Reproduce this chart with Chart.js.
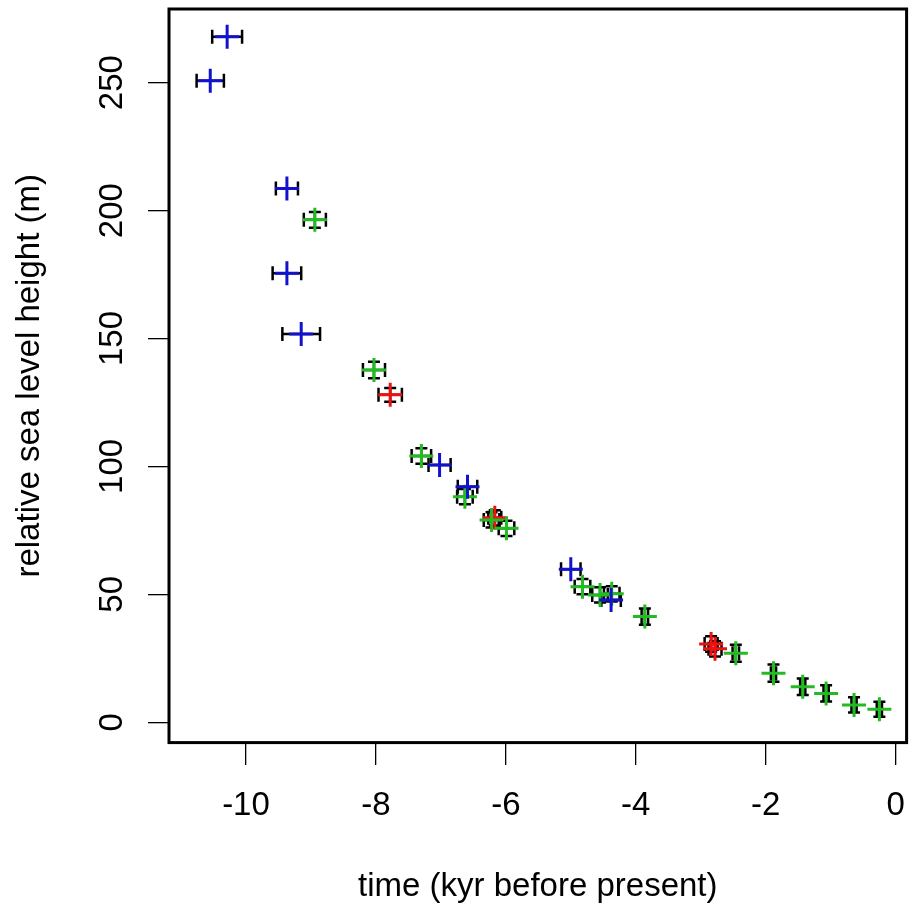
<!DOCTYPE html>
<html lang="en">

<head>
  <meta charset="UTF-8">
  <title>Relative sea level</title>
  <script src="https://cdn.jsdelivr.net/npm/chart.js"></script>
  <style>
    html, body { margin: 0; padding: 0; background: #fff; }
    #grafico { display: block; }
  </style>
</head>

<body>
  <canvas id="grafico" width="912" height="909"></canvas>

<script>
  // tick values
  const xTicks = [-10, -8, -6, -4, -2, 0];
  const yTicks = [0, 50, 100, 150, 200, 250];

  // blue series (time kyr BP, sea level m, errors)
  const blueTime = [-10.29, -10.55, -9.37, -9.37, -9.15, -7.02, -6.59, -5.00, -4.38];
  const blueLevel = [268.0, 250.8, 208.6, 175.5, 151.8, 100.6, 92.1, 59.8, 47.8];
  const blueTimeErr = [0.23, 0.21, 0.17, 0.22, 0.29, 0.17, 0.15, 0.15, 0.15];
  const blueLevelErr = [0, 0, 0, 0, 0, 0, 0, 0, 0];

  // green series
  const greenTime = [-8.94, -8.03, -7.30, -6.63, -6.22, -5.99, -4.82, -4.55, -4.37, -3.86, -2.46, -1.88, -1.43, -1.07, -0.64, -0.25];
  const greenLevel = [196.4, 137.7, 104.1, 88.2, 79.1, 75.8, 53.0, 49.8, 50.2, 41.3, 27.0, 19.2, 13.9, 11.3, 6.8, 5.1];
  const greenTimeErr = [0.17, 0.17, 0.15, 0.12, 0.12, 0.12, 0.12, 0.12, 0.12, 0.05, 0.05, 0.04, 0.04, 0.04, 0.04, 0.04];
  const greenLevelErr = [3.1, 3.2, 3.0, 3.0, 3.0, 3.0, 3.0, 3.0, 3.0, 3.2, 3.3, 3.4, 3.2, 3.2, 3.0, 2.9];

  // red series
  const redTime = [-7.78, -6.17, -2.84, -2.78];
  const redLevel = [128.0, 79.9, 30.6, 28.7];
  const redTimeErr = [0.18, 0.10, 0.10, 0.10];
  const redLevelErr = [2.7, 3.0, 3.0, 3.0];

  const fonte = '"Liberation Sans", Arial, sans-serif';

  function montarPontos(tempos, niveis) {
    let pontos = [];
    for (let i = 0; i < tempos.length; i++) {
      pontos.push({ x: tempos[i], y: niveis[i] });
    }
    return pontos;
  }

  function serie(tempos, niveis, errosX, errosY, cor) {
    return {
      data: montarPontos(tempos, niveis),
      errosX: errosX,
      errosY: errosY,
      showLine: false,
      pointStyle: 'cross',
      pointRadius: 12,
      pointHoverRadius: 12,
      pointBorderWidth: 3,
      pointHoverBorderWidth: 3,
      borderColor: cor,
      backgroundColor: cor
    };
  }

  // black error bars with caps, drawn under the crosses
  const barrasDeErro = {
    id: 'barrasDeErro',
    beforeDatasetsDraw(chart) {
      const ctx = chart.ctx;
      const sx = chart.scales.x;
      const sy = chart.scales.y;
      ctx.save();
      ctx.strokeStyle = '#000';
      ctx.lineWidth = 2.5;
      chart.data.datasets.forEach(function (ds) {
        ds.data.forEach(function (p, i) {
          const px = sx.getPixelForValue(p.x);
          const py = sy.getPixelForValue(p.y);
          const ex = ds.errosX[i];
          const ey = ds.errosY[i];
          ctx.beginPath();
          if (ex > 0) {
            const x1 = sx.getPixelForValue(p.x - ex);
            const x2 = sx.getPixelForValue(p.x + ex);
            ctx.moveTo(x1, py); ctx.lineTo(x2, py);
            ctx.moveTo(x1, py - 7); ctx.lineTo(x1, py + 7);
            ctx.moveTo(x2, py - 7); ctx.lineTo(x2, py + 7);
          }
          if (ey > 0) {
            const y1 = sy.getPixelForValue(p.y - ey);
            const y2 = sy.getPixelForValue(p.y + ey);
            ctx.moveTo(px, y1); ctx.lineTo(px, y2);
            ctx.moveTo(px - 6, y1); ctx.lineTo(px + 6, y1);
            ctx.moveTo(px - 6, y2); ctx.lineTo(px + 6, y2);
          }
          ctx.stroke();
        });
      });
      ctx.restore();
    }
  };

  // R style box round the plot region
  const caixa = {
    id: 'caixa',
    afterDatasetsDraw(chart) {
      const a = chart.chartArea;
      const ctx = chart.ctx;
      ctx.save();
      ctx.strokeStyle = '#000';
      ctx.lineWidth = 3;
      ctx.strokeRect(a.left, a.top, a.right - a.left, a.bottom - a.top);
      ctx.restore();
    }
  };

  const config = {
    type: 'scatter',
    data: {
      datasets: [
        serie(blueTime, blueLevel, blueTimeErr, blueLevelErr, '#1212cc'),
        serie(greenTime, greenLevel, greenTimeErr, greenLevelErr, '#22bb22'),
        serie(redTime, redLevel, redTimeErr, redLevelErr, '#ee1111')
      ]
    },
    options: {
      responsive: false,
      animation: false,
      events: [],
      layout: {
        autoPadding: false,
        padding: { top: 9, right: 5.4, left: 0, bottom: 0 }
      },
      plugins: {
        legend: { display: false },
        tooltip: { enabled: false }
      },
      scales: {
        x: {
          type: 'linear',
          position: 'bottom',
          min: -11.185,
          max: 0.169,
          afterBuildTicks: function (scale) {
            scale.ticks = xTicks.map(v => ({ value: v }));
          },
          afterFit: function (scale) {
            scale.height = 166.4;
            scale.paddingLeft = 0;
            scale.paddingRight = 0;
          },
          border: { display: false },
          grid: {
            drawOnChartArea: false,
            drawTicks: true,
            tickLength: 22.4,
            tickColor: '#000',
            lineWidth: 1.3
          },
          ticks: {
            autoSkip: false,
            maxRotation: 0,
            padding: 21.4,
            color: '#000',
            font: { family: fonte, size: 33 }
          },
          title: {
            display: true,
            text: 'time (kyr before present)',
            color: '#000',
            font: { family: fonte, size: 33 },
            padding: { top: 0, bottom: 2.3 }
          }
        },
        y: {
          type: 'linear',
          position: 'left',
          min: -7.94,
          max: 278.8,
          afterBuildTicks: function (scale) {
            scale.ticks = yTicks.map(v => ({ value: v }));
          },
          afterFit: function (scale) {
            scale.width = 169;
            scale.paddingTop = 0;
            scale.paddingBottom = 0;
          },
          border: { display: false },
          grid: {
            drawOnChartArea: false,
            drawTicks: true,
            tickLength: 21,
            tickColor: '#000',
            lineWidth: 1.3
          },
          ticks: {
            autoSkip: false,
            minRotation: 90,
            maxRotation: 90,
            crossAlign: 'center',
            padding: 7.5,
            color: '#000',
            font: { family: fonte, size: 33 }
          },
          title: {
            display: true,
            text: 'relative sea level height (m)',
            color: '#000',
            font: { family: fonte, size: 33 },
            padding: { top: 10.5, bottom: 0 }
          }
        }
      }
    },
    plugins: [barrasDeErro, caixa]
  };

  let grafico = new Chart(
    document.getElementById('grafico'),
    config
  );
</script>

</body>

</html>
